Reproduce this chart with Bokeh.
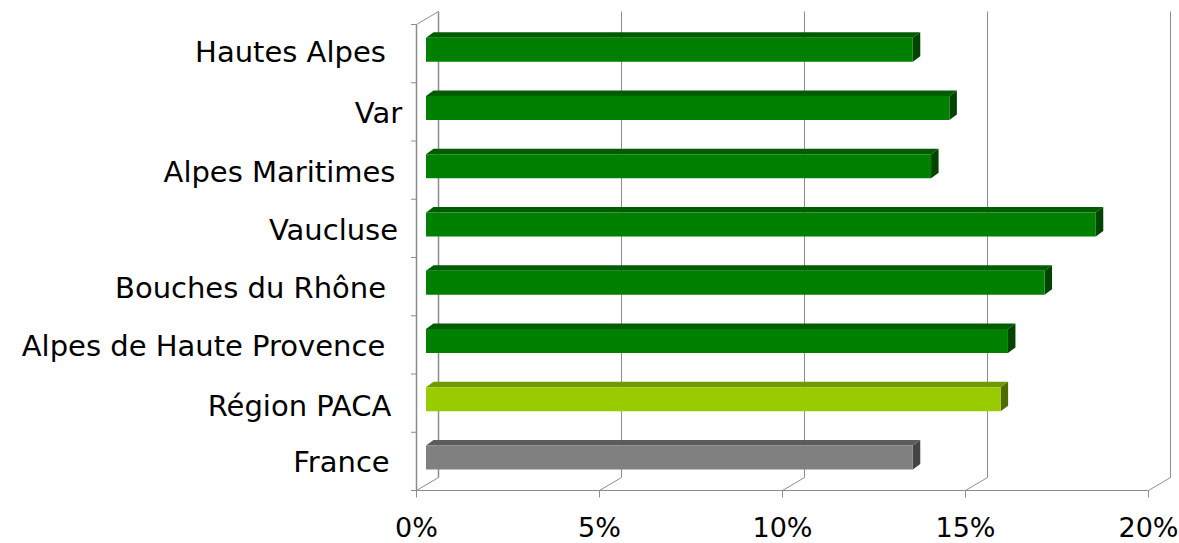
from bokeh.plotting import figure
from bokeh.models import Range1d, FixedTicker, PrintfTickFormatter, ColumnDataSource
from bokeh.core.properties import value
from bokeh.embed import file_html
from bokeh.resources import INLINE

# ---- data
categories = ["France", "Région PACA", "Alpes de Haute Provence", "Bouches du Rhône",
              "Vaucluse", "Alpes Maritimes", "Var", "Hautes Alpes"]
values = [13.3, 15.7, 15.9, 16.9, 18.3, 13.8, 14.3, 13.3]
x_ticks = [0, 5, 10, 15, 20]

# ---- styles
green = ("#008000", "#005c00", "#004400")
lime = ("#99cc00", "#739900", "#4f6b00")
grey = ("#808080", "#5c5c5c", "#454545")
palette = [grey, lime] + [green] * 6
label_center = [341, 299, 203, 250, 333, 279, 378, 290]
label_dy = [1, 2.5, 1, 1, 2, 1.5, 1, -1.5]

W, H = 1179, 543
PX_PER_PCT = 36.6
F_LEFT, F_BOTTOM = 416.0, 490.0
DX, DY = 22, 13
ROW = 58.25
BAR_H = 24
BAR_DX, BAR_DY = 7.5, 5.5
BAR_INSET = 9.5
BAR_LIFT = 4

x_start = -F_LEFT / PX_PER_PCT
x_end = x_start + W / PX_PER_PCT

p = figure(width=W, height=H, output_backend="svg", toolbar_location=None,
           x_range=Range1d(x_start, x_end),
           y_range=Range1d(-(H - F_BOTTOM) / ROW, F_BOTTOM / ROW),
           min_border_left=0, min_border_right=0, min_border_top=0,
           min_border_bottom=0, outline_line_color=None,
           x_axis_location="below", y_axis_location=None)
p.grid.visible = False
p.background_fill_color = "white"
p.border_fill_color = "white"

ux = 1 / PX_PER_PCT
uy = 1 / ROW
wall = "#8c8c8c"
n = len(categories)

# back wall gridlines & floor diagonals
dxs = DX * ux
dys = DY * uy
for t in x_ticks:
    p.line([t + dxs, t + dxs], [dys, n + dys], line_color=wall, line_width=1.5 if t == 0 else 1)
    p.line([t, t + dxs], [0, dys], line_color=wall, line_width=1)
p.line([0, dxs], [n, n + dys], line_color=wall, line_width=1)

# bars
inset = BAR_INSET * ux
bx, by = BAR_DX * ux, BAR_DY * uy
for i, v in enumerate(values):
    front, top, side = palette[i]
    y0 = i + 0.5 + (BAR_LIFT - BAR_H / 2) * uy
    y1 = y0 + BAR_H * uy
    xr = inset + v
    p.patch([inset, xr, xr + bx, inset + bx], [y1, y1, y1 + by, y1 + by], fill_color=top, line_color=None)
    p.patch([xr, xr + bx, xr + bx, xr], [y0, y0 + by, y1 + by, y1], fill_color=side, line_color=None)
    p.patch([inset, xr, xr, inset], [y0, y0, y1, y1], fill_color=front, line_color=None)

# x axis, pinned to the floor of the chart
ax = p.xaxis[0]
ax.fixed_location = 0
ax.ticker = FixedTicker(ticks=x_ticks)
ax.formatter = PrintfTickFormatter(format="%d%%")
ax.bounds = (0, 20)
ax.major_label_text_font = "DejaVu Sans"
ax.major_label_text_font_size = "27px"
ax.major_label_text_color = "#000000"
ax.axis_line_color = wall
ax.major_tick_line_color = wall
ax.major_tick_out = 7
ax.major_tick_in = 0
ax.minor_tick_line_color = None
ax.major_label_standoff = 14

# left axis with ticks at the category boundaries
ticklen = 5.5 * ux
p.line([0, 0], [0, n], line_color=wall, line_width=1.5)
for k in range(n + 1):
    p.line([-ticklen, 0], [k, k], line_color=wall, line_width=1)

# category labels
src = ColumnDataSource(dict(
    x=[(c - F_LEFT) * ux for c in label_center],
    y=[i + 0.5 - d * uy for i, d in enumerate(label_dy)],
    t=categories))
p.text("x", "y", text="t", source=src, text_font=value("DejaVu Sans"), text_font_size="29px",
       text_color="#000000", text_baseline="middle", text_align="center")

open("out.html", "w").write(file_html(p, INLINE))
